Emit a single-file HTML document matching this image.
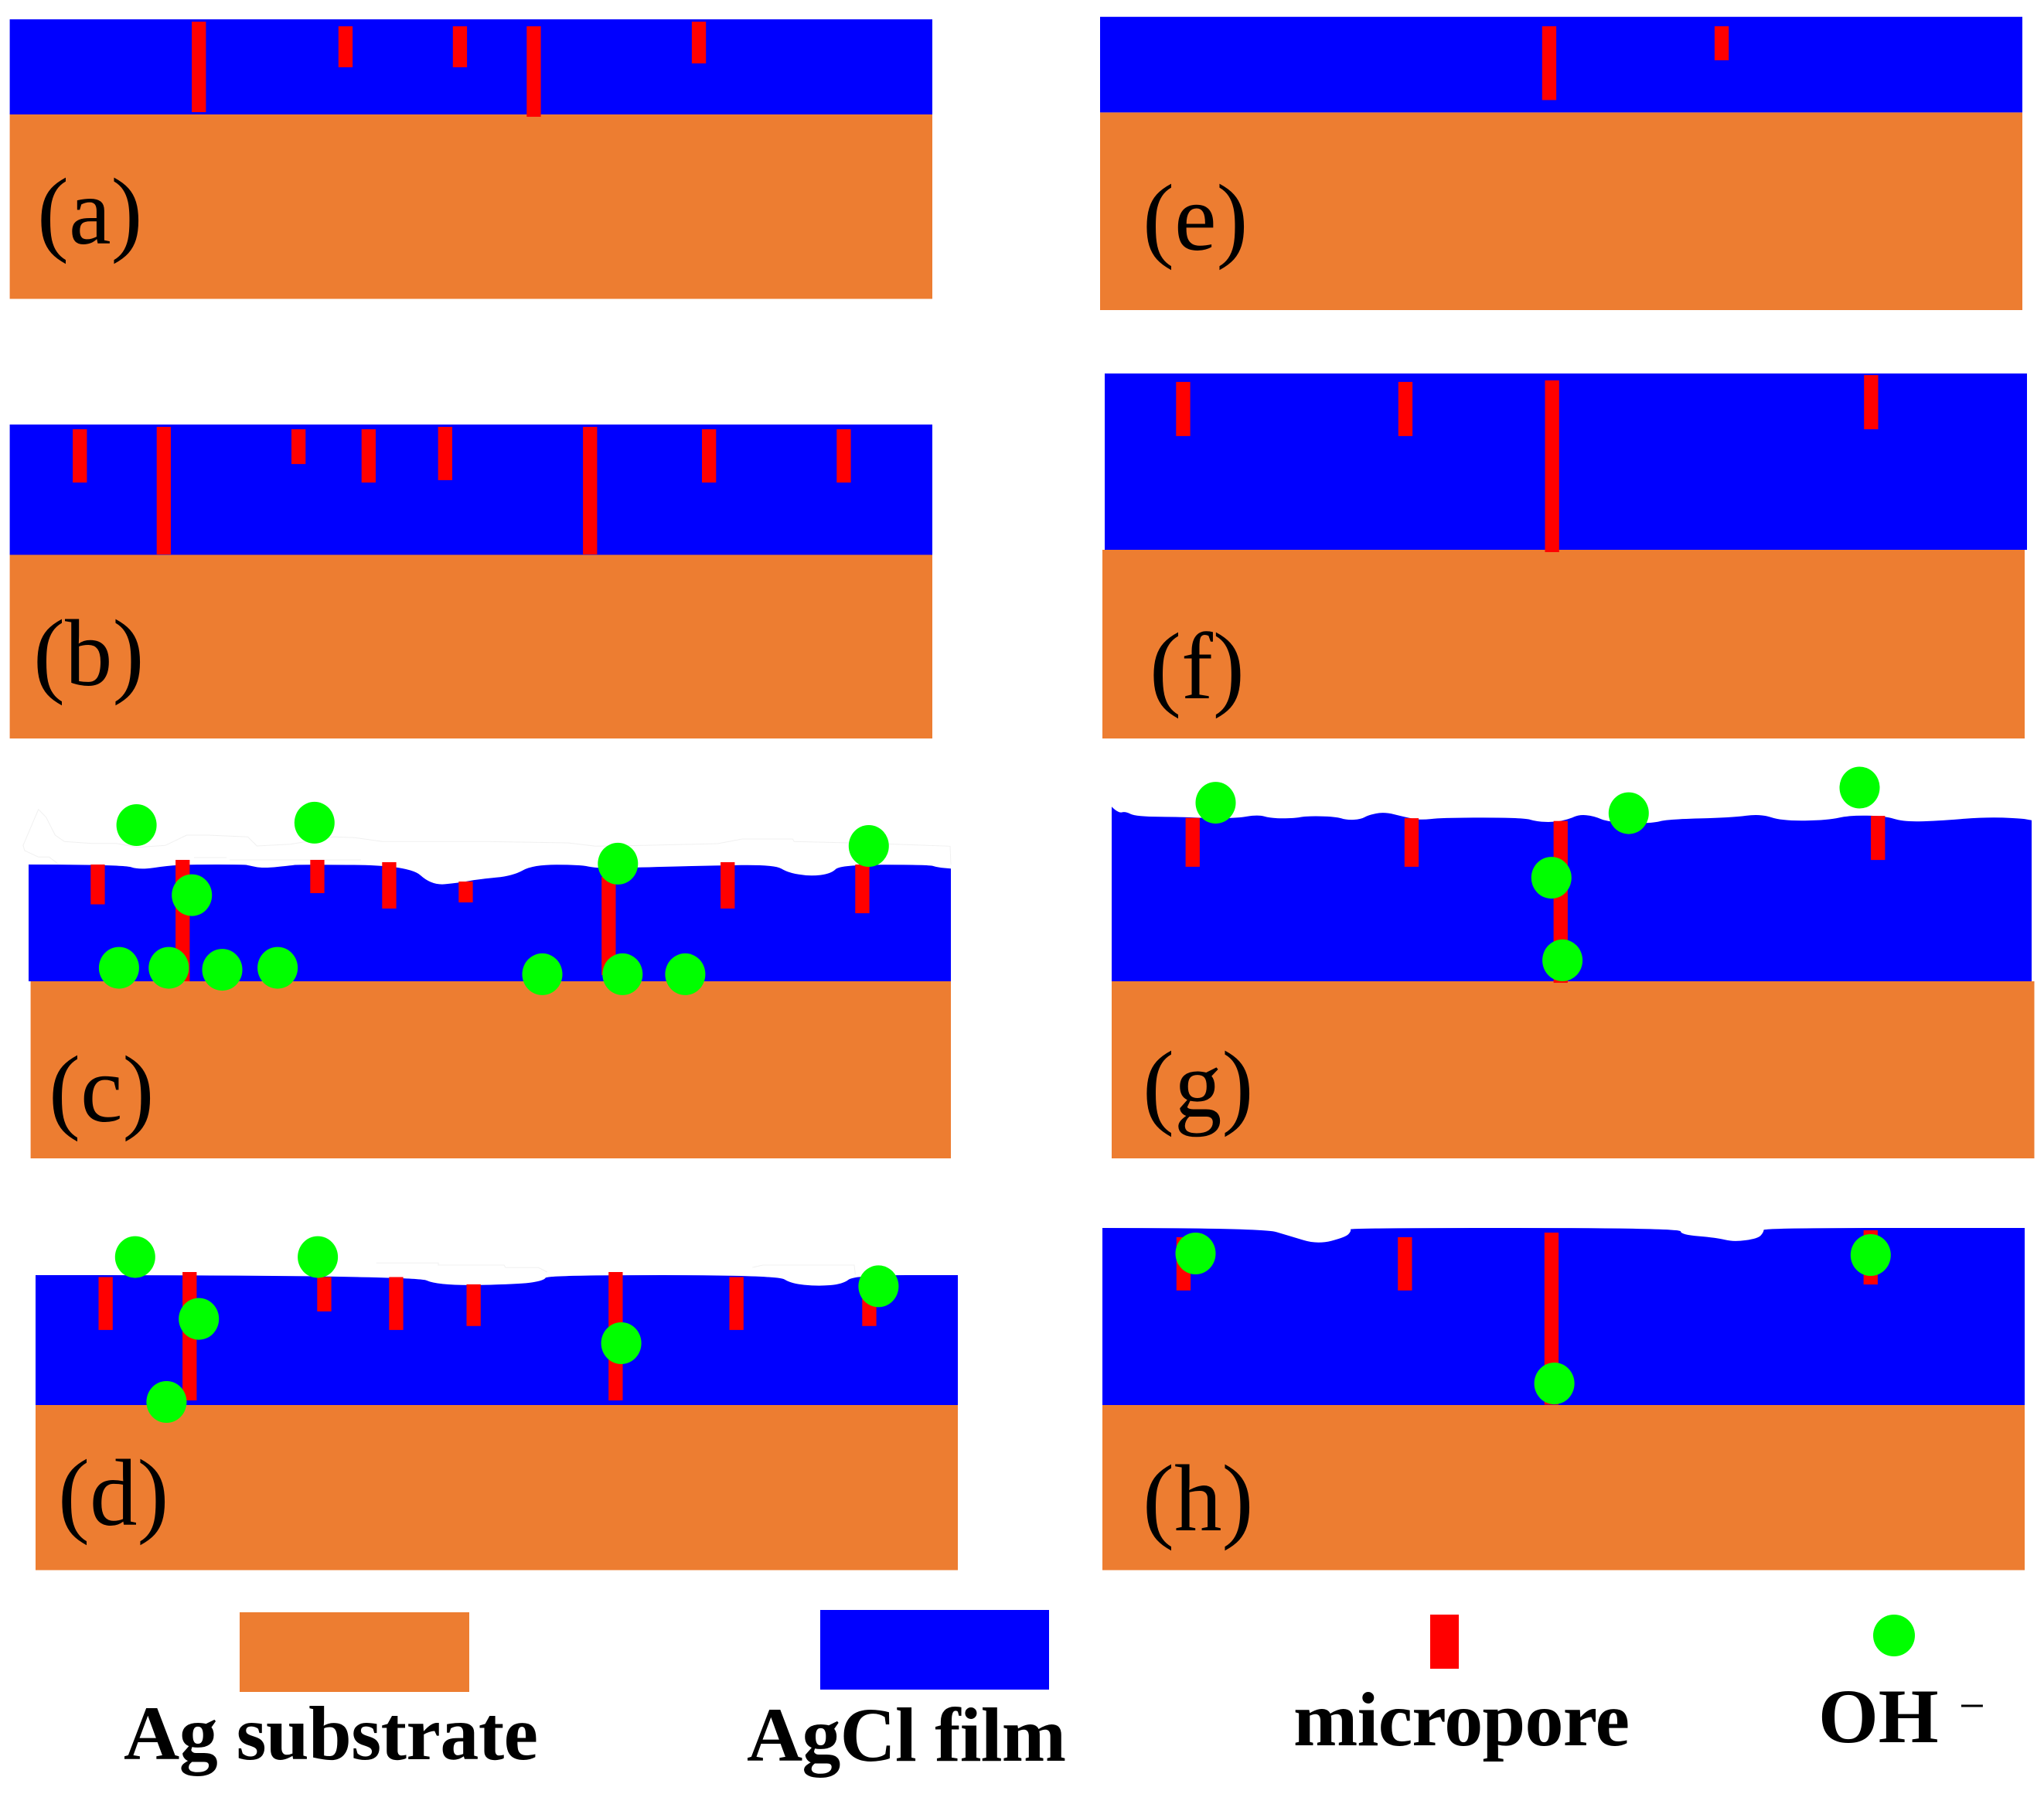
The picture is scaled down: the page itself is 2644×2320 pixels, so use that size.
<!DOCTYPE html>
<html lang="en">
<head>
<meta charset="utf-8">
<title>AgCl film micropore schematic</title>
<style>
html,body{margin:0;padding:0;background:#fff;}
svg{display:block;}
text{font-family:"Liberation Serif",serif;fill:#000;}
.lg{font-weight:bold;font-size:100px;}
.pl{font-size:123px;}
.edge{fill:none;stroke:#f0f0f0;stroke-width:1;}
</style>
</head>
<body>
<svg id="figure" xmlns="http://www.w3.org/2000/svg" width="2644" height="2320" viewBox="0 0 2644 2320">
  <rect x="0" y="0" width="2644" height="2320" fill="#fff"/>
  <g>
    <polyline class="edge" points="75.4,1117.3 63.5,1108.3 49.7,1108.3 31.9,1100 29.9,1093.3 49.7,1046.7 59.5,1056.7 71.4,1080 83.3,1088.3 118.9,1090.7 150.5,1090.7 178,1095.7 213.8,1093.3 241.4,1080 269,1080 320.5,1082.3 332.4,1094 375.9,1091.7 431.2,1082.3 458.9,1083.3 494.5,1088.3 633.8,1088.3 734.7,1090 770.3,1094.3 833.5,1093.3 928.4,1091 960,1085 1025.3,1085 1027.3,1088.3 1098.5,1090 1157.8,1091.7 1229,1094.3 1230,1118"/>
    <polyline class="edge" points="251,1109 293,1109"/>
    <polyline class="edge" points="297,1112 467,1112"/>
    <polyline class="edge" points="486.8,1633.3 567,1633.3 567,1636 652,1636 654,1639.3 696.6,1639.3 707.8,1645"/>
    <polyline class="edge" points="973.4,1639 986.8,1636 1105,1636 1106.4,1648.3"/>
  </g>
  <g id="panels"></g>
  <g id="legend">
    <rect x="310" y="2085" width="297" height="103" fill="#ED7D31"/>
    <rect x="1061" y="2082" width="296" height="103" fill="#0000FF"/>
    <rect x="1850" y="2088" width="37" height="70" fill="#FF0000"/>
    <ellipse cx="2450" cy="2115" rx="27" ry="27" fill="#00FF00"/>
    <text class="lg" x="160" y="2275" textLength="536" lengthAdjust="spacing">Ag substrate</text>
    <text class="lg" x="966" y="2277" textLength="413" lengthAdjust="spacing">AgCl film</text>
    <text class="lg" x="1673" y="2257" textLength="435" lengthAdjust="spacing">micropore</text>
    <text class="lg" x="2352" y="2253">OH</text>
    <text x="2534" y="2226" font-size="60">−</text>
  </g>
</svg>
<script>
// Values below are percentages: "along" = % of film width, "start/depth/dip" = % of film thickness.
const labelText = ["(a)", "(b)", "(c)", "(d)", "(e)", "(f)", "(g)", "(h)"];

const poreAlongA = [20.5, 36.4, 48.8, 56.8, 74.7];
const poreStartA = [2.4, 7.3, 7.3, 7.3, 2.4];
const poreDepthA = [95.1, 43.1, 43.1, 95.1, 43.9];

const poreAlongB = [7.6, 16.7, 31.3, 38.9, 47.2, 62.9, 75.8, 90.4];
const poreStartB = [3.6, 1.8, 3.6, 3.6, 1.8, 1.8, 3.6, 3.6];
const poreDepthB = [40.9, 97.9, 26.7, 40.9, 40.9, 97.9, 40.9, 40.9];

const poreAlongC = [7.5, 16.7, 31.3, 39.1, 47.4, 62.9, 75.8, 90.4];
const poreStartC = [0, -4, -4, -2, 14.6, 10.6, -2, 0];
const poreDepthC = [34.1, 104, 28.5, 39.7, 17.9, 84.1, 39.7, 41.7];
const ionAlongC = [11.7, 31.0, 63.9, 91.1, 17.7, 9.8, 15.2, 21.0, 27.0, 55.7, 64.4, 71.2];
const ionDepthC = [-33.8, -35.8, -0.7, -15.9, 26.2, 88.5, 88.5, 90.1, 88.5, 94, 94, 94];
const surfaceAlongC = [0, 10.3, 12, 15.1, 17.4, 23.4, 23.8, 25.4, 28.6, 29.2, 41.3, 43.7, 46.6, 48.9, 52.5, 54.7, 59.8, 61.6, 66.1, 73.7, 80.9, 82.3, 84.7, 87, 88, 97.6, 98.6, 100];
const surfaceDipC = [0, 0, 4.6, 0.9, 0, 0, 0.7, 3.3, 0.7, 0, 0.7, 17.9, 15.7, 12.4, 9.8, 0.2, 0.2, 3.3, 2.5, 0.9, 0.2, 6.8, 10.1, 7.9, 0.2, 0.2, 2.5, 3.5];

const poreAlongD = [7.6, 16.7, 31.3, 39.1, 47.5, 62.9, 76.0, 90.4];
const poreStartD = [1.5, -2.4, 1.5, 1.5, 7.1, -2.4, 1.5, 7.1];
const poreDepthD = [40.7, 98.8, 26.4, 40.7, 32.1, 98.8, 40.7, 32.1];
const ionAlongD = [10.8, 30.6, 91.4, 17.7, 63.5, 14.2];
const ionDepthD = [-13.9, -13.9, 8.6, 33.7, 52.4, 97.6];
const surfaceAlongD = [0, 41.1, 43.7, 52.6, 55.1, 55.5, 80.5, 81.9, 84.8, 87.5, 88.8, 100];
const surfaceDipD = [0, 0, 8.2, 7, 4.2, 0, 0, 6.5, 8.5, 7, 0, 0];

const poreAlongE = [48.7, 67.4];
const poreStartE = [9.9, 9.9];
const poreDepthE = [77.2, 35.6];

const poreAlongF = [8.5, 32.6, 48.5, 83.1];
const poreStartF = [4.8, 4.8, 3.9, 0.9];
const poreDepthF = [30.7, 30.7, 97.4, 30.7];

const poreAlongG = [8.8, 32.6, 48.8, 83.3];
const poreStartG = [1.7, 1.9, 3.6, 0.5];
const poreDepthG = [29.4, 29.2, 97.3, 26.5];
const ionAlongG = [11.3, 56.2, 81.3, 47.8, 49.0];
const ionDepthG = [-7.4, -1.1, -16.5, 37.7, 87.4];
const surfaceAlongG = [0, 0.7, 1.5, 2.6, 8, 9.6, 13.6, 15.9, 17.3, 19.9, 21.1, 24.3, 25.6, 27.1, 27.9, 29.6, 31.9, 33.5, 35.9, 44.8, 46.2, 48.2, 49.7, 50.8, 52.4, 54, 58.6, 60.5, 67.4, 70.5, 72.9, 77.9, 80.2, 84, 86, 89.6, 94.9, 98.8, 100];
const surfaceDipG = [-5, -1.1, -2.2, 0.9, 1.2, 1.7, 2, -0.3, 2, 2, 0.6, 0.9, 3.1, 2.5, 0, -1.9, 1.2, 3.1, 1.6, 1.6, 4, 4.3, 2.5, -0.3, 0.5, 4.3, 5.1, 2.5, 1.6, -0.8, 3.6, 3.1, 0.2, 0.5, 4, 3.6, 1.2, 2, 3.1];

const poreAlongH = [8.8, 32.8, 48.7, 83.3];
const poreStartH = [5.2, 5.2, 2.6, 1.3];
const poreDepthH = [30.1, 30.1, 97.2, 30.6];
const ionAlongH = [10.1, 83.3, 49.0];
const ionDepthH = [14.4, 15.3, 87.8];
const surfaceAlongH = [0, 17.4, 20.3, 23.3, 26.4, 27, 26.8, 62.7, 62.7, 66.6, 68.4, 71.1, 71.7, 71.7, 100];
const surfaceDipH = [0, 0, 4.5, 9.3, 5.2, 1.6, 0, 0, 3.8, 5.5, 7.9, 6, 2.3, 0, 0];

const flatAlong = [0, 100];
const flatDip = [0, 0];
const none = [];

const NS = "http://www.w3.org/2000/svg";
const poreWidth = 18.3;
const ionRadiusX = 26;
const ionRadiusY = 27;

// Panel frames: layout only, the data above is mapped through them.
const layout = [
  {id:"a", fl:12.6, fr:1206, ft:25, fb:148, sl:12.6, sr:1206, sb:386.5, lx:48, ly:315, pa:poreAlongA, ps:poreStartA, pd:poreDepthA, ia:none, id2:none, sa:flatAlong, sd:flatDip},
  {id:"b", fl:12.6, fr:1206, ft:549, fb:717.5, sl:12.6, sr:1206, sb:955, lx:43, ly:886, pa:poreAlongB, ps:poreStartB, pd:poreDepthB, ia:none, id2:none, sa:flatAlong, sd:flatDip},
  {id:"c", fl:37, fr:1230, ft:1118, fb:1269, sl:39.6, sr:1230, sb:1498, lx:63, ly:1450, pa:poreAlongC, ps:poreStartC, pd:poreDepthC, ia:ionAlongC, id2:ionDepthC, sa:surfaceAlongC, sd:surfaceDipC},
  {id:"d", fl:46, fr:1239, ft:1649, fb:1817, sl:46, sr:1239, sb:2030.5, lx:75, ly:1972, pa:poreAlongD, ps:poreStartD, pd:poreDepthD, ia:ionAlongD, id2:ionDepthD, sa:surfaceAlongD, sd:surfaceDipD},
  {id:"e", fl:1423, fr:2616, ft:21.7, fb:145.4, sl:1423, sr:2616, sb:401, lx:1478, ly:323, pa:poreAlongE, ps:poreStartE, pd:poreDepthE, ia:none, id2:none, sa:flatAlong, sd:flatDip},
  {id:"f", fl:1429, fr:2622, ft:483, fb:711, sl:1426, sr:2619, sb:955, lx:1487, ly:903, pa:poreAlongF, ps:poreStartF, pd:poreDepthF, ia:none, id2:none, sa:flatAlong, sd:flatDip},
  {id:"g", fl:1438, fr:2628, ft:1054, fb:1269, sl:1438, sr:2631.5, sb:1498, lx:1478, ly:1444, pa:poreAlongG, ps:poreStartG, pd:poreDepthG, ia:ionAlongG, id2:ionDepthG, sa:surfaceAlongG, sd:surfaceDipG},
  {id:"h", fl:1426, fr:2619, ft:1588, fb:1817, sl:1426, sr:2619, sb:2030.5, lx:1478, ly:1979, pa:poreAlongH, ps:poreStartH, pd:poreDepthH, ia:ionAlongH, id2:ionDepthH, sa:surfaceAlongH, sd:surfaceDipH}
];

function xAxis(p, along) { return p.fl + along / 100 * (p.fr - p.fl); }
function yAxis(p, dip) { return p.ft + dip / 100 * (p.fb - p.ft); }
function fmt(v) { return v.toFixed(1); }

function filmPath(p) {
  const pts = p.sa.map(function (a, i) { return [xAxis(p, a), yAxis(p, p.sd[i])]; });
  let d = "M" + fmt(p.fl) + " " + fmt(p.fb) + " L" + fmt(pts[0][0]) + " " + fmt(pts[0][1]);
  for (let i = 1; i < pts.length - 1; i++) {
    const mx = (pts[i][0] + pts[i + 1][0]) / 2;
    const my = (pts[i][1] + pts[i + 1][1]) / 2;
    d += " Q" + fmt(pts[i][0]) + " " + fmt(pts[i][1]) + " " + fmt(mx) + " " + fmt(my);
  }
  const last = pts[pts.length - 1];
  d += " L" + fmt(last[0]) + " " + fmt(last[1]) + " L" + fmt(p.fr) + " " + fmt(p.fb) + " Z";
  return d;
}

const root = document.getElementById("panels");

layout.forEach(function (p, idx) {
  const g = document.createElementNS(NS, "g");
  
  
  root.appendChild(g);

  const sub = document.createElementNS(NS, "rect");
  sub.setAttribute("x", p.sl);
  sub.setAttribute("y", p.fb);
  sub.setAttribute("width", p.sr - p.sl);
  sub.setAttribute("height", p.sb - p.fb);
  sub.setAttribute("fill", "#ED7D31");
  
  
  g.appendChild(sub);

  const film = document.createElementNS(NS, "path");
  film.setAttribute("d", filmPath(p));
  film.setAttribute("fill", "#0000FF");
  
  
  g.appendChild(film);

  p.pa.forEach(function (a, i) {
    const r = document.createElementNS(NS, "rect");
    r.setAttribute("x", fmt(xAxis(p, a) - poreWidth / 2));
    r.setAttribute("y", fmt(yAxis(p, p.ps[i])));
    r.setAttribute("width", poreWidth);
    r.setAttribute("height", fmt(yAxis(p, p.ps[i] + p.pd[i]) - yAxis(p, p.ps[i])));
    r.setAttribute("fill", "#FF0000");
    
    
    g.appendChild(r);
  });

  p.ia.forEach(function (a, i) {
    const c = document.createElementNS(NS, "ellipse");
    c.setAttribute("cx", fmt(xAxis(p, a)));
    c.setAttribute("cy", fmt(yAxis(p, p.id2[i])));
    c.setAttribute("rx", ionRadiusX);
    c.setAttribute("ry", ionRadiusY);
    c.setAttribute("fill", "#00FF00");
    
    
    g.appendChild(c);
  });

  const t = document.createElementNS(NS, "text");
  t.setAttribute("class", "pl");
  t.setAttribute("x", p.lx);
  t.setAttribute("y", p.ly);
  t.textContent = labelText[idx];
  
  
  g.appendChild(t);
});
</script>
</body>
</html>
